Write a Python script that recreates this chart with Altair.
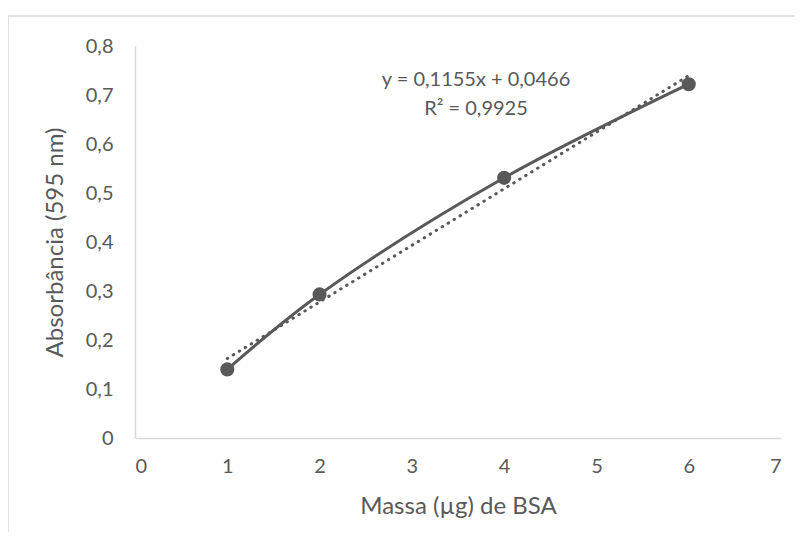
import altair as alt
import pandas as pd

# Data
massa = [1, 2, 4, 6]
absorbancia = [0.140, 0.293, 0.531, 0.722]

# Linear trendline shown on the chart
slope = 0.1155
intercept = 0.0466
trend_x = [1, 6]
eq_lines = ["y = 0,1155x + 0,0466", "R² = 0,9925"]

FONT = "Lato"
GREY = "#595959"

df = pd.DataFrame({"x": massa, "y": absorbancia})
trend = pd.DataFrame({"x": trend_x, "y": [slope * v + intercept for v in trend_x]})

W, H = 646, 392
PL, PT, PR, PB = 127, 38, 14, 94

xscale = alt.Scale(domain=[0, 7], nice=False, zero=False)
yscale = alt.Scale(domain=[0, 0.8], nice=False)

num_expr = "datum.value == 0 ? '0' : replace(format(datum.value, '.1f'), '.', ',')"

xaxis = alt.Axis(
    title="Massa (µg) de BSA", values=list(range(0, 8)), labelExpr="format(datum.value, 'd')",
    grid=False, ticks=False, domainColor="#d9d9d9", domainWidth=1.5,
    labelFont=FONT, labelFontSize=20, labelColor=GREY, labelPadding=18,
    titleFont=FONT, titleFontSize=24, titleColor=GREY, titleFontWeight="normal", titlePadding=18,
)
yaxis = alt.Axis(
    title="Absorbância (595 nm)", values=[0, 0.1, 0.2, 0.3, 0.4, 0.5, 0.6, 0.7, 0.8], labelExpr=num_expr,
    grid=False, ticks=False, domainColor="#d9d9d9", domainWidth=1.5,
    labelFont=FONT, labelFontSize=20, labelColor=GREY, labelPadding=22,
    titleFont=FONT, titleFontSize=24, titleColor=GREY, titleFontWeight="normal", titlePadding=18,
)

X = alt.X("x:Q", scale=xscale, axis=xaxis)
Y = alt.Y("y:Q", scale=yscale, axis=yaxis)

base = alt.Chart(df)

line = base.mark_line(color=GREY, strokeWidth=3, interpolate="catmull-rom").encode(x=X, y=Y)
pts = base.mark_point(filled=True, color=GREY, size=200, opacity=1).encode(x=X, y=Y)
tline = alt.Chart(trend).mark_line(
    color=GREY, strokeWidth=3, strokeDash=[0.5, 6.5], strokeCap="round"
).encode(x=X, y=Y)

one = pd.DataFrame({"a": [0]})
text1 = alt.Chart(one).mark_text(
    font=FONT, fontSize=20, color=GREY, align="center", baseline="middle", text=eq_lines[0]
).encode(x=alt.value(341), y=alt.value(34))
text2 = alt.Chart(one).mark_text(
    font=FONT, fontSize=20, color=GREY, align="center", baseline="middle", text=eq_lines[1]
).encode(x=alt.value(341), y=alt.value(63))

border_top = alt.Chart(one).mark_rule(color="#d9d9d9", strokeWidth=1.5).encode(
    x=alt.value(-PL), x2=alt.value(W + PR), y=alt.value(-30)
)
border_left = alt.Chart(one).mark_rule(color="#d9d9d9", strokeWidth=1.5).encode(
    x=alt.value(-PL), y=alt.value(-30), y2=alt.value(H + PB)
)

chart = alt.layer(tline, line, pts, text1, text2, border_top, border_left).properties(
    width=W, height=H,
    autosize=alt.AutoSizeParams(type="none"),
    padding={"left": PL, "top": PT, "right": PR, "bottom": PB},
).configure_view(stroke=None)

chart.save("out.html", embed_options={"renderer": "svg", "actions": False})
